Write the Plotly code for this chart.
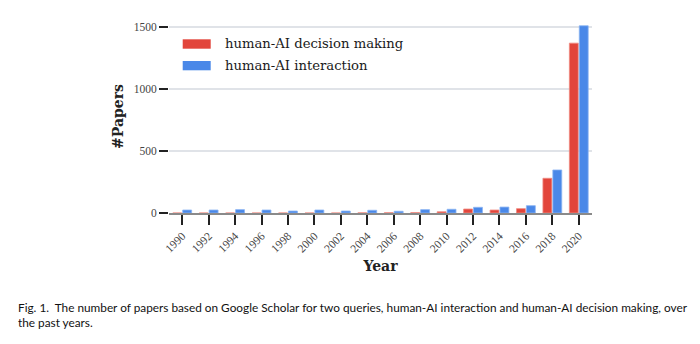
import plotly.graph_objects as go

years = ["1990", "1992", "1994", "1996", "1998", "2000", "2002", "2004",
         "2006", "2008", "2010", "2012", "2014", "2016", "2018", "2020"]
decision_making = [0, 0, 0, 0, 0, 0, 0, 1, 2, 3, 10, 32, 24, 35, 280, 1370]
interaction = [24, 24, 27, 24, 16, 24, 16, 22, 14, 27, 30, 46, 48, 59, 347, 1510]
y_ticks = [0, 500, 1000, 1500]
series_names = ["human-AI decision making", "human-AI interaction"]
caption_lines = [
    "Fig. 1.  The number of papers based on Google Scholar for two queries, human-AI interaction and human-AI decision making, over",
    "the past years.",
]

RED = "#e2453b"
BLUE = "#4a88e8"
SERIF = "DejaVu Serif"

fig = go.Figure()
fig.add_trace(go.Bar(x=years, y=decision_making, name=series_names[0],
                     marker=dict(color=RED, line=dict(color="#f08a82", width=0.8)),
                     showlegend=False))
fig.add_trace(go.Bar(x=years, y=interaction, name=series_names[1],
                     marker=dict(color=BLUE, line=dict(color="#8ab4f3", width=0.8)),
                     showlegend=False))

fig.update_layout(
    width=700, height=344,
    margin=dict(l=169, r=108, t=20, b=131),
    paper_bgcolor="white", plot_bgcolor="white",
    barmode="group", bargap=0.25, bargroupgap=0.1,
    font=dict(family=SERIF, color="#222"),
)

fig.update_xaxes(
    type="category", showline=True, linecolor="#8a8a8a", linewidth=1.5,
    ticks="outside", ticklen=10, tickwidth=2, tickcolor="#222",
    tickangle=-45, tickfont=dict(family="Liberation Serif", size=11.5, color="#444"),
    showgrid=False,
    title=dict(text="<b>Year</b>", font=dict(family=SERIF, size=14, color="#222"), standoff=8),
    automargin=False,
)
fig.update_yaxes(
    range=[0, 1556.5], tickvals=y_ticks,
    showline=False, zeroline=False,
    ticks="outside", ticklen=9, tickwidth=2, tickcolor="#222",
    tickfont=dict(family="Liberation Serif", size=11.5, color="#444"),
    showgrid=True, gridcolor="#e0e3e8", gridwidth=1.5,
    title=dict(text="<b>#Papers</b>", font=dict(family=SERIF, size=14, color="#222"), standoff=6),
    automargin=False,
)

# legend drawn as swatches + labels
legend_rows = [(0.8513, 0.9000, 0.8808), (0.7394, 0.7876, 0.7617)]
for (y0, y1, yt), name, col in zip(legend_rows, series_names, [RED, BLUE]):
    fig.add_shape(type="rect", xref="paper", yref="paper",
                  x0=0.0324, x1=0.0986, y0=y0, y1=y1,
                  fillcolor=col, line=dict(width=0))
    fig.add_annotation(xref="paper", yref="paper", x=0.1284, y=yt,
                       xanchor="left", yanchor="middle", showarrow=False,
                       text=name, font=dict(family=SERIF, size=13.2, color="#1a1a1a"))

caption_y = [-0.4922, -0.5699]
for line, yy in zip(caption_lines, caption_y):
    fig.add_annotation(xref="paper", yref="paper", x=-0.3617, y=yy,
                       xanchor="left", yanchor="middle", showarrow=False,
                       text=line, font=dict(family="Lato", size=11.8, color="#111"))

fig.write_html("out.html")
